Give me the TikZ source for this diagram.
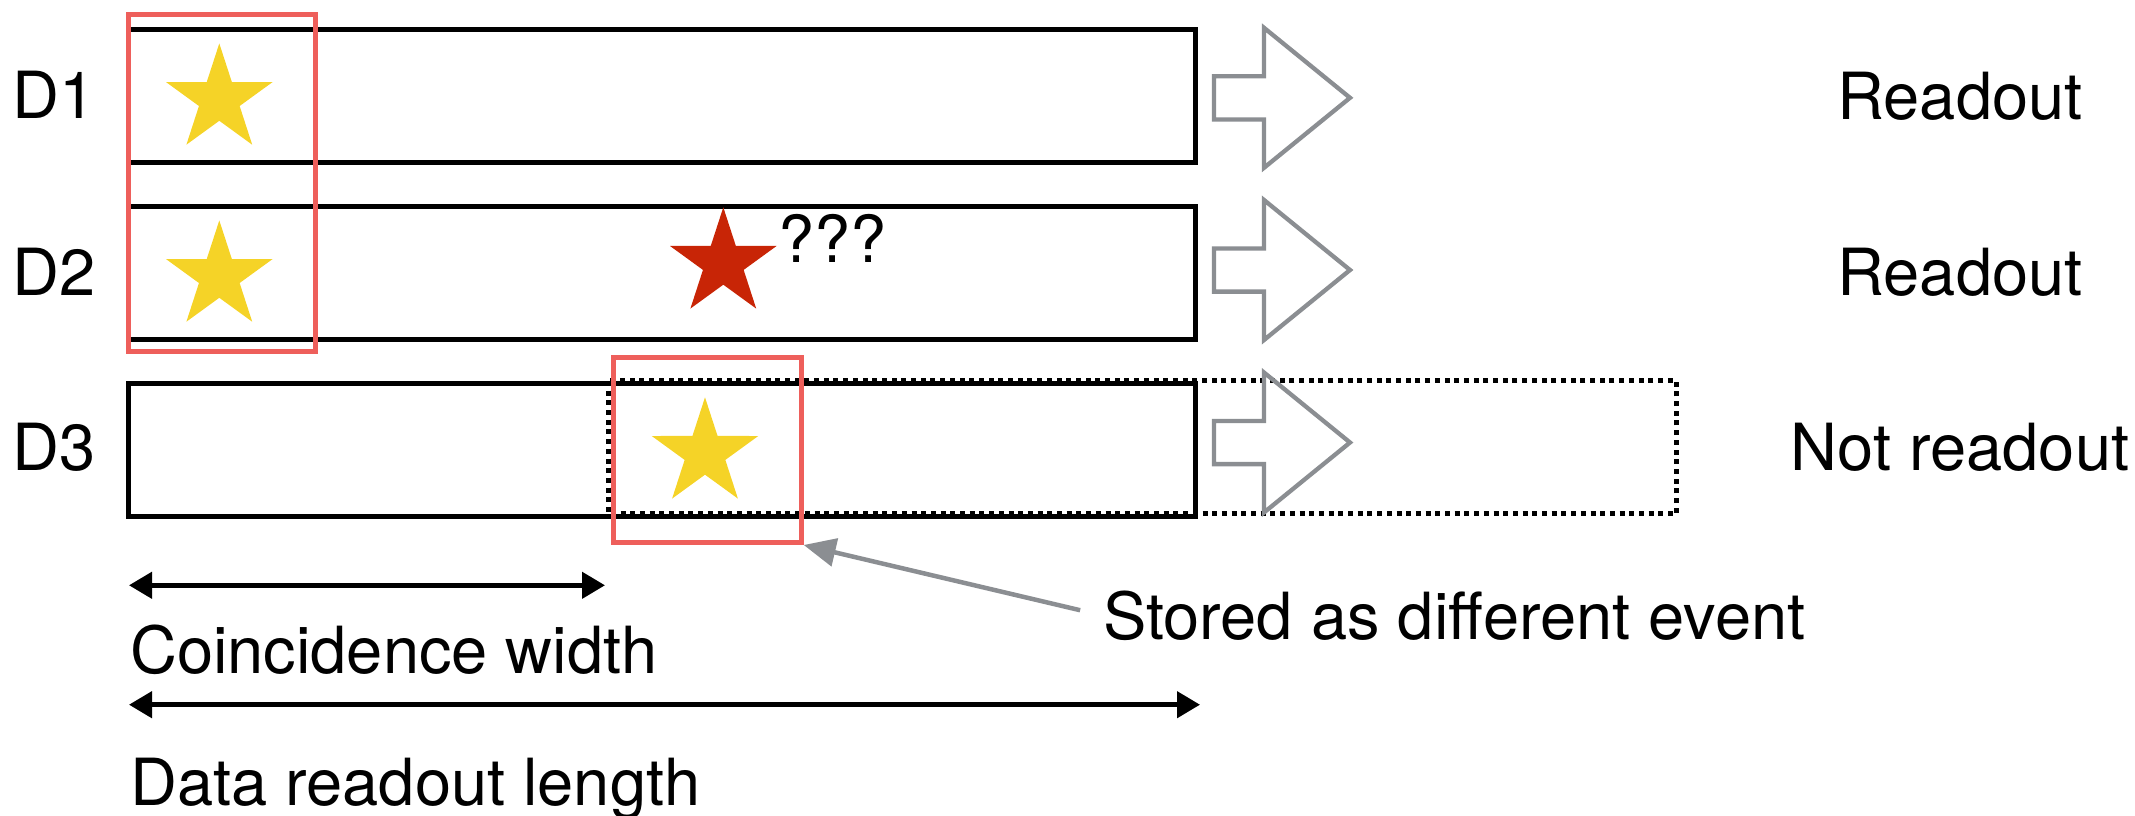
\documentclass[tikz,border=0pt]{standalone}
\usepackage{fontspec}
\setmainfont{TeX Gyre Heros}
\usetikzlibrary{arrows.meta,shapes.geometric}

\definecolor{boxred}{HTML}{EE5F5B}
\definecolor{hityellow}{HTML}{F5D327}
\definecolor{hitred}{HTML}{C82506}
\definecolor{arrowgray}{HTML}{8B8E92}

\begin{document}
\begin{tikzpicture}[x=1pt,y=1pt,
  lbl/.style={font=\fontsize{65}{78}\selectfont, inner sep=0pt},
  buffer/.style={draw=black, line width=5pt, minimum width=1067pt,
    minimum height=133pt, inner sep=0pt, anchor=north west},
  window/.style={draw=boxred, line width=5pt, inner sep=0pt, anchor=north west},
  hit/.style={star, star points=5, star point ratio=2.618, minimum size=112pt,
    inner sep=0pt},
  extension/.style={draw=black, line width=5pt, dash pattern=on 5pt off 4.7pt},
  readarrow/.style={draw=arrowgray, line width=4.3pt, line join=miter},
  span/.style={line width=4.5pt,
    {Triangle[length=23pt,width=26pt]}-{Triangle[length=23pt,width=26pt]}},
  note/.style={draw=arrowgray, line width=4.5pt, -{Triangle[length=32pt,width=28pt]},
    arrowgray},
  pics/blockarrow/.style={code={
    \draw[readarrow] (0,21.6) -- (50,21.6) -- (50,70) -- (136,0)
      -- (50,-70) -- (50,-21.6) -- (0,-21.6) -- cycle;}},
]
\useasboundingbox (0,0) rectangle (2135,-816);

% dotted extension of the D3 buffer
\draw[extension] (608,-380.9) rectangle (1676.6,-513.9);

% data buffers
\node[buffer] (b1) at (125.9,-26.9) {};
\node[buffer] (b2) at (125.9,-203.9) {};
\node[buffer] (b3) at (125.9,-380.9) {};

% readout arrows
\pic at (1214,-97.8) {blockarrow};
\pic at (1214,-270) {blockarrow};
\pic at (1214,-442.5) {blockarrow};

% hits
\node[hit, fill=hityellow] (h1) at (219.3,-99.4) {};
\node[hit, fill=hityellow] (h2) at (219.3,-276.4) {};
\node[hit, fill=hityellow] (h3) at (705,-453.3) {};
\node[hit, fill=hitred] (h4) at (723.3,-263.3) {};

% coincidence windows
\node[window, minimum width=187.5pt, minimum height=336.8pt] (w1) at (125.9,-12.4) {};
\node[window, minimum width=187.7pt, minimum height=185.3pt] (w2) at (611,-354.7) {};

% labels
\node[lbl, anchor=base west] (d1) at (12,-118.5) {D1};
\node[lbl, anchor=base west] (d2) at (12,-295) {D2};
\node[lbl, anchor=base west] (d3) at (12,-470.7) {D3};
\node[lbl, anchor=base] (r1) at (1960,-119) {Readout};
\node[lbl, anchor=base] (r2) at (1960,-295.5) {Readout};
\node[lbl, anchor=base] (r3) at (1960,-470.7) {Not readout};
\node[lbl, anchor=base west] (q) at (778,-262.7) {???};
\node[lbl, anchor=base west] (stored) at (1103,-639.3) {Stored as different event};
\node[lbl, anchor=base west] (cwl) at (130,-673.3) {Coincidence width};
\node[lbl, anchor=base west] (drl) at (130,-805) {Data readout length};

% widths
\coordinate (cw-l) at (129,-585.3);
\coordinate (cw-r) at (605,-585.3);
\coordinate (dr-l) at (129,-704.7);
\coordinate (dr-r) at (1200,-704.7);
\draw[span] (cw-l) -- (cw-r);
\draw[span] (dr-l) -- (dr-r);

% annotation pointer
\draw[note, shorten <=23.5pt] (stored.west) -- (w2.south east);
\end{tikzpicture}
\end{document}
